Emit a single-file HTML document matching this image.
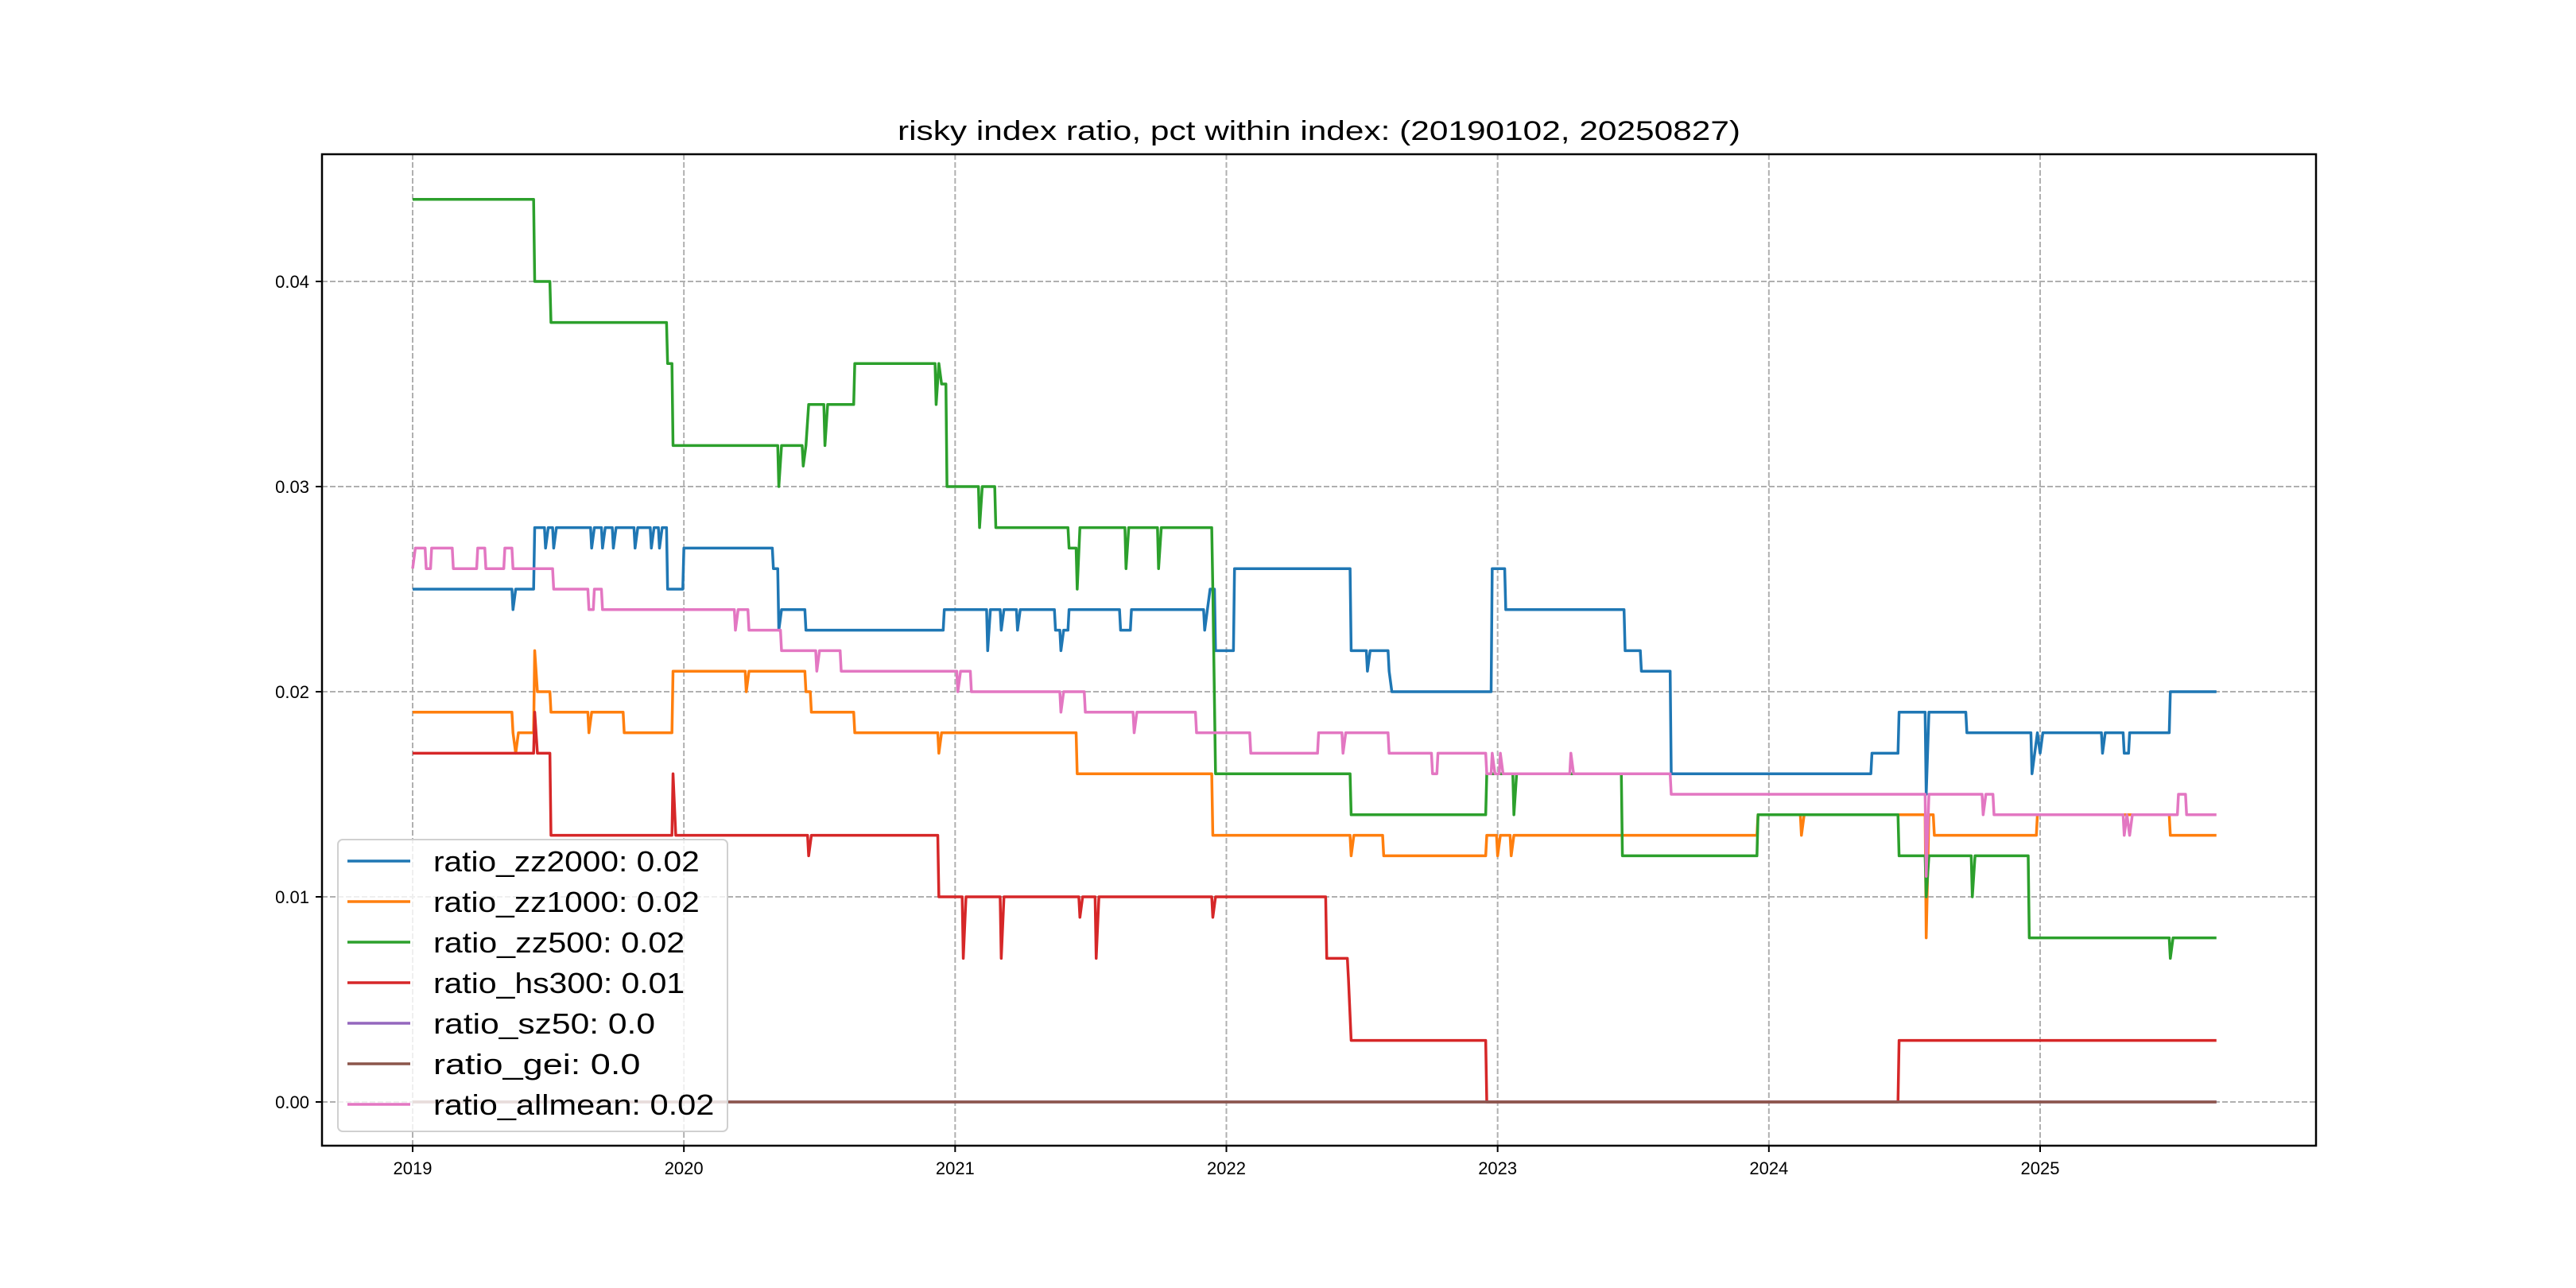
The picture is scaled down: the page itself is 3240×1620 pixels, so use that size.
<!DOCTYPE html>
<html><head><meta charset="utf-8"><style>
html,body{margin:0;padding:0;background:#fff;width:3240px;height:1620px;overflow:hidden}
svg text{font-family:"WenQuanYi Zen Hei","Liberation Sans","Noto Sans CJK SC",sans-serif;fill:#000}
</style></head><body>
<svg id="chart" width="3240" height="1620" xmlns="http://www.w3.org/2000/svg"></svg>
<script>
const yearTicks=[2019,2020,2021,2022,2023,2024,2025];
const valueTicks=[0,0.01,0.02,0.03,0.04];
const valueTickLabels=["0.00","0.01","0.02","0.03","0.04"];
const endDate=2025.65;
const seriesNames=["ratio_zz2000","ratio_zz1000","ratio_zz500","ratio_hs300","ratio_sz50","ratio_gei","ratio_allmean"];
const seriesLabels=["ratio_zz2000: 0.02","ratio_zz1000: 0.02","ratio_zz500: 0.02","ratio_hs300: 0.01","ratio_sz50: 0.0","ratio_gei: 0.0","ratio_allmean: 0.02"];
const seriesColors=["#1f77b4","#ff7f0e","#2ca02c","#d62728","#9467bd","#8c564b","#e377c2"];
const zz2000=[[2019,0.025],[2019.37,0.024],[2019.38,0.025],[2019.45,0.028],[2019.49,0.027],[2019.50,0.028],[2019.52,0.027],[2019.53,0.028],[2019.66,0.027],[2019.67,0.028],[2019.70,0.027],[2019.71,0.028],[2019.74,0.027],[2019.75,0.028],[2019.82,0.027],[2019.83,0.028],[2019.88,0.027],[2019.89,0.028],[2019.91,0.027],[2019.92,0.028],[2019.94,0.025],[2020.00,0.027],[2020.33,0.026],[2020.35,0.023],[2020.36,0.024],[2020.45,0.023],[2020.96,0.024],[2021.12,0.022],[2021.13,0.024],[2021.17,0.023],[2021.18,0.024],[2021.23,0.023],[2021.24,0.024],[2021.37,0.023],[2021.39,0.022],[2021.40,0.023],[2021.42,0.024],[2021.61,0.023],[2021.65,0.024],[2021.92,0.023],[2021.93,0.024],[2021.94,0.025],[2021.96,0.022],[2022.03,0.026],[2022.46,0.022],[2022.52,0.021],[2022.53,0.022],[2022.60,0.021],[2022.61,0.020],[2022.98,0.026],[2023.03,0.024],[2023.47,0.022],[2023.53,0.021],[2023.64,0.016],[2024.38,0.017],[2024.48,0.019],[2024.58,0.015],[2024.59,0.019],[2024.73,0.018],[2024.97,0.016],[2024.98,0.017],[2024.99,0.018],[2025.00,0.017],[2025.01,0.018],[2025.23,0.017],[2025.24,0.018],[2025.31,0.017],[2025.33,0.018],[2025.48,0.020]];
const zz1000=[[2019,0.019],[2019.37,0.018],[2019.38,0.017],[2019.39,0.018],[2019.45,0.022],[2019.46,0.020],[2019.51,0.019],[2019.65,0.018],[2019.66,0.019],[2019.78,0.018],[2019.96,0.021],[2020.23,0.020],[2020.24,0.021],[2020.45,0.020],[2020.47,0.019],[2020.63,0.018],[2020.94,0.017],[2020.95,0.018],[2021.45,0.016],[2021.95,0.013],[2022.46,0.012],[2022.47,0.013],[2022.58,0.012],[2022.96,0.013],[2023.00,0.012],[2023.01,0.013],[2023.05,0.012],[2023.06,0.013],[2023.96,0.014],[2024.12,0.013],[2024.13,0.014],[2024.58,0.008],[2024.59,0.014],[2024.61,0.013],[2024.99,0.014],[2025.48,0.013]];
const zz500=[[2019,0.044],[2019.45,0.040],[2019.51,0.038],[2019.94,0.036],[2019.96,0.032],[2020.35,0.030],[2020.36,0.032],[2020.44,0.031],[2020.45,0.032],[2020.46,0.034],[2020.52,0.032],[2020.53,0.034],[2020.63,0.036],[2020.93,0.034],[2020.94,0.036],[2020.95,0.035],[2020.97,0.030],[2021.09,0.028],[2021.10,0.030],[2021.15,0.028],[2021.42,0.027],[2021.45,0.025],[2021.46,0.028],[2021.63,0.026],[2021.64,0.028],[2021.75,0.026],[2021.76,0.028],[2021.95,0.025],[2021.96,0.016],[2022.46,0.014],[2022.96,0.016],[2023.06,0.014],[2023.07,0.016],[2023.46,0.012],[2023.96,0.014],[2024.48,0.012],[2024.58,0.010],[2024.59,0.012],[2024.75,0.010],[2024.76,0.012],[2024.96,0.008],[2025.48,0.007],[2025.49,0.008]];
const hs300=[[2019,0.017],[2019.45,0.019],[2019.46,0.017],[2019.51,0.013],[2019.96,0.016],[2019.97,0.013],[2020.46,0.012],[2020.47,0.013],[2020.94,0.010],[2021.03,0.007],[2021.04,0.010],[2021.17,0.007],[2021.18,0.010],[2021.46,0.009],[2021.47,0.010],[2021.52,0.007],[2021.53,0.010],[2021.95,0.009],[2021.96,0.010],[2022.37,0.007],[2022.45,0.006],[2022.46,0.003],[2022.96,0.000],[2024.48,0.003]];
const sz50=[[2019,0.0]];
const gei=[[2019,0.0]];
const allmean=[[2019,0.026],[2019.01,0.027],[2019.05,0.026],[2019.07,0.027],[2019.15,0.026],[2019.24,0.027],[2019.27,0.026],[2019.34,0.027],[2019.37,0.026],[2019.52,0.025],[2019.65,0.024],[2019.67,0.025],[2019.70,0.024],[2020.19,0.023],[2020.20,0.024],[2020.24,0.023],[2020.36,0.022],[2020.49,0.021],[2020.50,0.022],[2020.58,0.021],[2021.01,0.020],[2021.02,0.021],[2021.06,0.020],[2021.39,0.019],[2021.40,0.020],[2021.48,0.019],[2021.66,0.018],[2021.67,0.019],[2021.89,0.018],[2022.09,0.017],[2022.34,0.018],[2022.43,0.017],[2022.44,0.018],[2022.60,0.017],[2022.76,0.016],[2022.78,0.017],[2022.96,0.016],[2022.98,0.017],[2022.99,0.016],[2023.01,0.017],[2023.02,0.016],[2023.27,0.017],[2023.28,0.016],[2023.64,0.015],[2024.58,0.011],[2024.59,0.015],[2024.79,0.014],[2024.80,0.015],[2024.83,0.014],[2025.31,0.013],[2025.32,0.014],[2025.33,0.013],[2025.34,0.014],[2025.51,0.015],[2025.54,0.014]];
const seriesData=[zz2000,zz1000,zz500,hs300,sz50,gei,allmean];

const NS="http://www.w3.org/2000/svg";
const svg=document.getElementById('chart');
const L=405,T=194,R=2913,B=1441;
const xScale=t=>519+(t-2019)*(2566-519)/6;
const yScale=v=>1386-v*25800;
function mk(tag,attrs,parent){const e=document.createElementNS(NS,tag);for(const k in attrs)e.setAttribute(k,attrs[k]);(parent||svg).appendChild(e);return e;}

const title=mk('text',{x:(L+R)/2,y:176,'text-anchor':'middle','font-size':34,textLength:1060,lengthAdjust:'spacingAndGlyphs'});


title.textContent="risky index ratio, pct within index: (20190102, 20250827)";

const grid=mk('g',{});


yearTicks.forEach((yr,i)=>{
  const x=xScale(yr);
  const gl=mk('line',{x1:x,x2:x,y1:T,y2:B,stroke:'#b0b0b0','stroke-width':2,'stroke-dasharray':'7,3'},grid);
  
  
  const tk=mk('line',{x1:x,x2:x,y1:B,y2:B+8,stroke:'#000','stroke-width':2});
  
  
  const lb=mk('text',{x:x,y:B+36,'text-anchor':'middle','font-size':22});
  
  
  lb.textContent=String(yr);
});
valueTicks.forEach((v,i)=>{
  const y=yScale(v);
  const gl=mk('line',{x1:L,x2:R,y1:y,y2:y,stroke:'#b0b0b0','stroke-width':2,'stroke-dasharray':'7,3'},grid);
  
  
  const tk=mk('line',{x1:L-8,x2:L,y1:y,y2:y,stroke:'#000','stroke-width':2});
  
  
  const lb=mk('text',{x:L-16,y:y+8,'text-anchor':'end','font-size':22});
  
  
  lb.textContent=valueTickLabels[i];
});

seriesData.forEach((pts,i)=>{
  let d='M'+xScale(pts[0][0])+','+yScale(pts[0][1]);
  for(let j=1;j<pts.length;j++){
    const gap=pts[j][0]-pts[j-1][0];
    if(gap>0.015){
      d+=' H'+xScale(pts[j][0]-0.004)+' L'+xScale(pts[j][0])+','+yScale(pts[j][1]);
    }else{
      d+=' L'+xScale(pts[j][0])+','+yScale(pts[j][1]);
    }
  }
  d+=' H'+xScale(endDate);
  const p=mk('path',{d:d,fill:'none',stroke:seriesColors[i],'stroke-width':3.5,'stroke-linejoin':'round'});
  
  
});

const frame=mk('rect',{x:L,y:T,width:R-L,height:B-T,fill:'none',stroke:'#000','stroke-width':2.5});



const lg=mk('g',{});


mk('rect',{x:425,y:1056,width:490,height:367,rx:6,fill:'rgba(255,255,255,0.8)',stroke:'#d0d0d0','stroke-width':2},lg);
seriesLabels.forEach((lab,i)=>{
  const cy=1083+i*51;
  const g=mk('g',{},lg);
  
  
  mk('line',{x1:437,x2:516,y1:cy,y2:cy,stroke:seriesColors[i],'stroke-width':3.5},g);
  const t=mk('text',{x:545,y:cy+13,'font-size':36,textLength:lab.length*18.6,lengthAdjust:'spacingAndGlyphs'},g);
  t.textContent=lab;
});
</script>
</body></html>
